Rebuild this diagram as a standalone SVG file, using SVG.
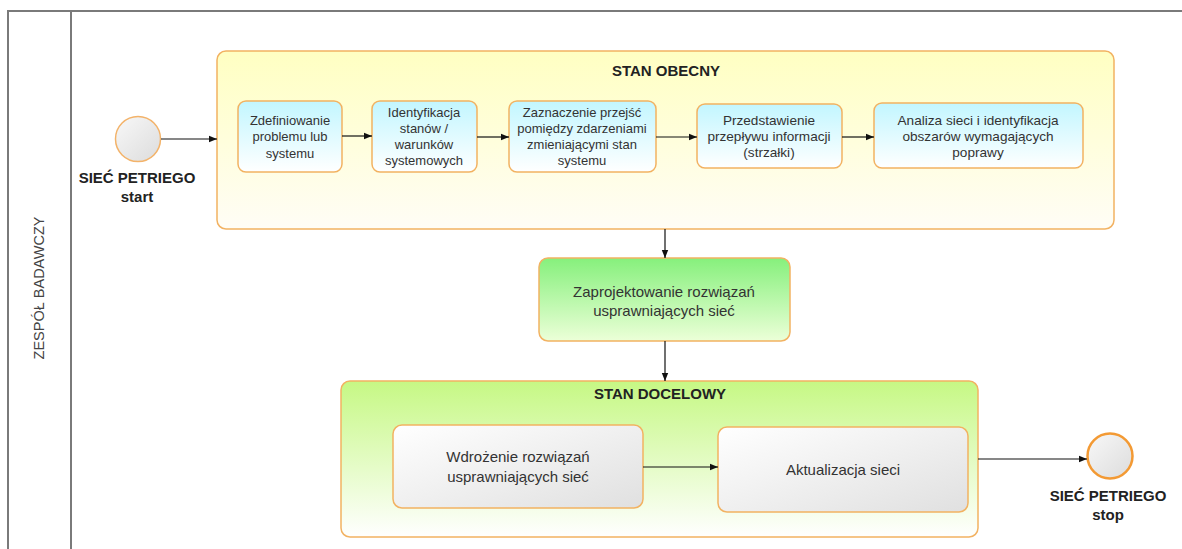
<svg xmlns="http://www.w3.org/2000/svg" width="1182" height="549" viewBox="0 0 1182 549">
  <style>
    .frame { fill: none; stroke: #7a7a7a; stroke-width: 2; }
    .txt { font-family: "Liberation Sans", Arial, sans-serif; font-size: 13px; fill: #333; text-anchor: middle; }
    .txt-m { font-size: 13.6px; }
    .txt-l { font-size: 15px; }
    .title { font-family: "Liberation Sans", Arial, sans-serif; font-size: 15px; font-weight: bold; fill: #222; text-anchor: middle; }
    .lane { font-family: "Liberation Sans", Arial, sans-serif; font-size: 14.5px; fill: #444; text-anchor: middle; }
    .edge { fill: none; stroke: #111; stroke-width: 1.2; marker-end: url(#arrow); }
    .box { stroke: #f2b262; stroke-width: 1.5; }
  </style>
  <defs>
    <marker id="arrow" viewBox="0 0 10 10" refX="10" refY="5" markerWidth="8" markerHeight="8" markerUnits="userSpaceOnUse" orient="auto">
      <path d="M0,1 L10,5 L0,9 Z" fill="#111"/>
    </marker>
    <linearGradient id="gYellow" x1="0" y1="0" x2="0" y2="1">
      <stop offset="0" stop-color="#ffffc2"/>
      <stop offset="1" stop-color="#fffdf6"/>
    </linearGradient>
    <linearGradient id="gCyan" x1="0" y1="0" x2="0" y2="1">
      <stop offset="0" stop-color="#c2f6ff"/>
      <stop offset="1" stop-color="#ffffff"/>
    </linearGradient>
    <linearGradient id="gGreen" x1="0" y1="0" x2="0" y2="1">
      <stop offset="0" stop-color="#86f07c"/>
      <stop offset="1" stop-color="#ecffd8"/>
    </linearGradient>
    <linearGradient id="gLime" x1="0" y1="0" x2="0" y2="1">
      <stop offset="0" stop-color="#c6f884"/>
      <stop offset="1" stop-color="#ffffff"/>
    </linearGradient>
    <linearGradient id="gGray" x1="0" y1="0" x2="1" y2="1">
      <stop offset="0" stop-color="#ffffff"/>
      <stop offset="1" stop-color="#e0e0e0"/>
    </linearGradient>
    <linearGradient id="gCircle" x1="0" y1="0" x2="1" y2="1">
      <stop offset="0" stop-color="#f8f8f8"/>
      <stop offset="1" stop-color="#dcdcdc"/>
    </linearGradient>
  </defs>

  <rect width="1182" height="549" fill="#ffffff"/>

  <!-- pool and lane -->
  <g id="pool">
    <path class="frame" d="M8,549 L8,11 L1182,11"/>
    <line class="frame" x1="71" y1="11" x2="71" y2="549"/>
    <text class="lane" transform="translate(44,288) rotate(-90)">ZESPÓŁ BADAWCZY</text>
  </g>

  <!-- start event -->
  <g id="start">
    <circle cx="138" cy="139" r="22.5" fill="url(#gCircle)" stroke="#f3b36a" stroke-width="1.5"/>
    <text class="title" x="137" y="183">SIEĆ PETRIEGO</text>
    <text class="title" x="137" y="202">start</text>
  </g>

  <!-- current state sub-process -->
  <g id="stan-obecny">
    <rect class="box" x="217" y="51" width="897" height="178" rx="9" fill="url(#gYellow)"/>
    <text class="title" x="666" y="76">STAN OBECNY</text>
  </g>

  <g id="t1">
    <rect class="box" x="238" y="101" width="104" height="71" rx="8" fill="url(#gCyan)"/>
    <text class="txt" x="290" y="125">Zdefiniowanie</text>
    <text class="txt" x="290" y="141">problemu lub</text>
    <text class="txt" x="290" y="158">systemu</text>
  </g>

  <g id="t2">
    <rect class="box" x="372" y="101" width="105" height="71" rx="8" fill="url(#gCyan)"/>
    <text class="txt" x="424" y="117">Identyfikacja</text>
    <text class="txt" x="424" y="133">stanów /</text>
    <text class="txt" x="424" y="149">warunków</text>
    <text class="txt" x="424" y="165">systemowych</text>
  </g>

  <g id="t3">
    <rect class="box" x="509" y="101" width="147" height="71" rx="8" fill="url(#gCyan)"/>
    <text class="txt" x="582" y="117">Zaznaczenie przejść</text>
    <text class="txt" x="582" y="133">pomiędzy zdarzeniami</text>
    <text class="txt" x="582" y="149">zmieniającymi stan</text>
    <text class="txt" x="582" y="165">systemu</text>
  </g>

  <g id="t4">
    <rect class="box" x="697" y="104" width="145" height="64" rx="8" fill="url(#gCyan)"/>
    <text class="txt txt-m" x="769" y="125">Przedstawienie</text>
    <text class="txt txt-m" x="769" y="141">przepływu informacji</text>
    <text class="txt txt-m" x="769" y="157">(strzałki)</text>
  </g>

  <g id="t5">
    <rect class="box" x="874" y="103" width="209" height="65" rx="8" fill="url(#gCyan)"/>
    <text class="txt txt-m" x="978" y="125">Analiza sieci i identyfikacja</text>
    <text class="txt txt-m" x="978" y="141">obszarów wymagających</text>
    <text class="txt txt-m" x="978" y="157">poprawy</text>
  </g>

  <!-- design task -->
  <g id="projekt">
    <rect class="box" x="539" y="258" width="251" height="83" rx="9" fill="url(#gGreen)"/>
    <text class="txt txt-l" x="664" y="297">Zaprojektowanie rozwiązań</text>
    <text class="txt txt-l" x="664" y="316">usprawniających sieć</text>
  </g>

  <!-- target state sub-process -->
  <g id="stan-docelowy">
    <rect class="box" x="341" y="381" width="637" height="156" rx="9" fill="url(#gLime)"/>
    <text class="title" x="660" y="399">STAN DOCELOWY</text>
  </g>

  <g id="wdrozenie">
    <rect class="box" x="393" y="425" width="250" height="83" rx="9" fill="url(#gGray)"/>
    <text class="txt txt-l" x="518" y="462">Wdrożenie rozwiązań</text>
    <text class="txt txt-l" x="518" y="482">usprawniających sieć</text>
  </g>

  <g id="aktualizacja">
    <rect class="box" x="718" y="427" width="250" height="85" rx="9" fill="url(#gGray)"/>
    <text class="txt txt-l" x="843" y="475">Aktualizacja sieci</text>
  </g>

  <!-- end event -->
  <g id="stop">
    <circle cx="1110" cy="456" r="22.5" fill="url(#gCircle)" stroke="#f39a34" stroke-width="2.5"/>
    <text class="title" x="1108" y="501">SIEĆ PETRIEGO</text>
    <text class="title" x="1108" y="520">stop</text>
  </g>

  <!-- sequence flows -->
  <g id="connectors">
    <line class="edge" x1="161" y1="139" x2="217" y2="139"/>
    <line class="edge" x1="342" y1="136" x2="372" y2="136"/>
    <line class="edge" x1="477" y1="137" x2="509" y2="137"/>
    <line class="edge" x1="656" y1="137" x2="697" y2="137"/>
    <line class="edge" x1="842" y1="137" x2="874" y2="137"/>
    <line class="edge" x1="665" y1="229" x2="665" y2="258"/>
    <line class="edge" x1="665" y1="341" x2="665" y2="381"/>
    <line class="edge" x1="643" y1="467" x2="718" y2="467"/>
    <line class="edge" x1="978" y1="459" x2="1087" y2="459"/>
  </g>
</svg>
